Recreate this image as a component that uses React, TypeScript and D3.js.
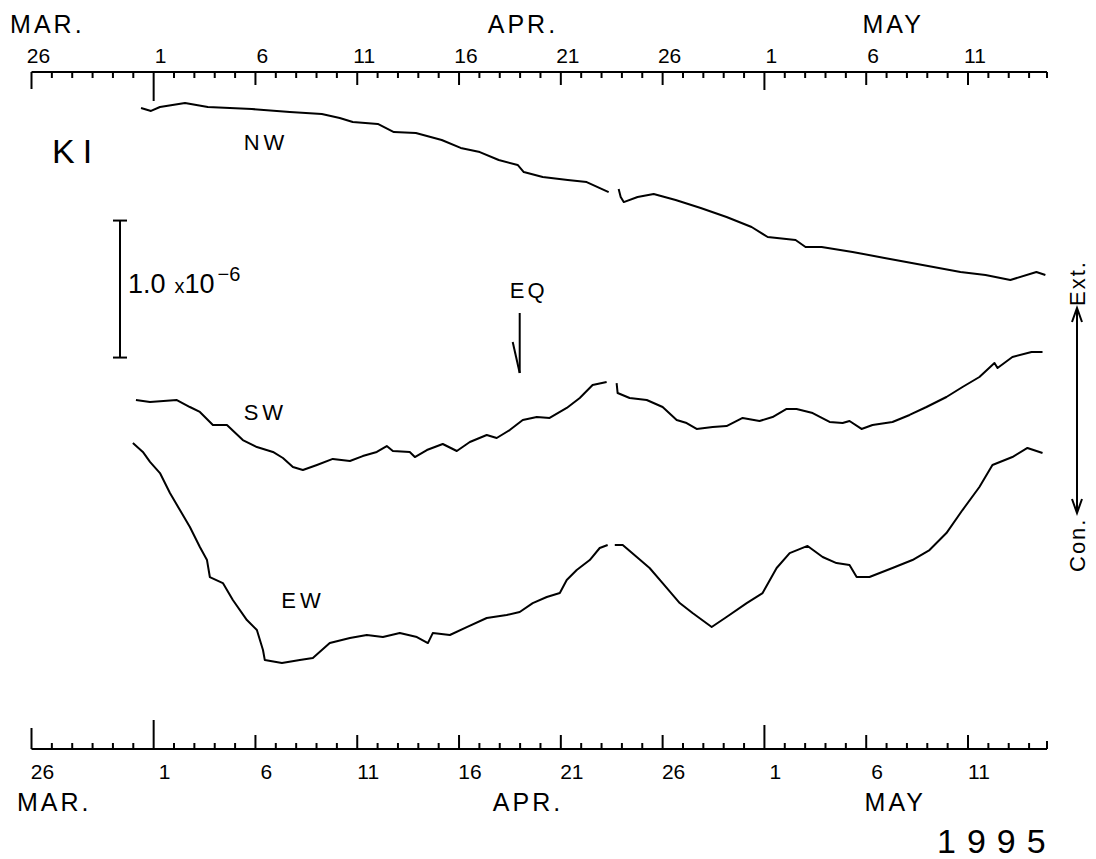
import React from 'react';
import * as d3 from 'd3';

// Time axis: days since 1995-03-26 00:00; strain in units of 1e-6 (Ext. up), common chart datum
const axisStartDay = 0;
const axisEndDay = 49.88;
const tickLabelDays = [0, 6, 11, 16, 21, 26, 31, 36, 41, 46];
const tickLabelTexts = ['26', '1', '6', '11', '16', '21', '26', '1', '6', '11'];
const monthNames = ['MAR.', 'APR.', 'MAY'];
const monthStartDaysTop = [-1.05, 22.41, 40.82];
const monthStartDaysBottom = [-0.71, 22.66, 40.92];

const nwDays = [5.38, 5.87, 6.31, 7.54, 8.66, 10.82, 12.69, 14.26, 15.14, 15.78, 17.01, 17.8, 18.88, 20.15, 21.08, 22.02, 22.95, 23.88, 24.18, 25.11, 26.34, 27.27, 28.35, 28.6, 28.84, 28.94, 29.09, 29.77, 30.56, 31.64, 32.87, 34.14, 35.37, 36.16, 37.53, 38.02, 38.81, 40.33, 41.9, 43.77, 45.63, 46.86, 48.08, 49.36, 49.8];
const nwValues = [-0.058, -0.08, -0.051, -0.022, -0.051, -0.066, -0.088, -0.102, -0.131, -0.161, -0.175, -0.234, -0.241, -0.292, -0.35, -0.38, -0.438, -0.474, -0.526, -0.562, -0.584, -0.599, -0.672, NaN, -0.65, -0.708, -0.745, -0.708, -0.686, -0.73, -0.788, -0.854, -0.927, -1.0, -1.022, -1.073, -1.073, -1.109, -1.153, -1.204, -1.255, -1.277, -1.314, -1.255, -1.277];

const swDays = [5.13, 5.82, 7.14, 7.78, 8.27, 8.91, 9.6, 10.38, 11.07, 11.86, 12.35, 12.84, 13.33, 14.02, 14.8, 15.64, 16.27, 16.96, 17.45, 17.75, 18.58, 18.83, 19.42, 20.2, 20.89, 21.53, 22.36, 22.85, 23.49, 24.13, 24.82, 25.45, 26.29, 26.93, 27.56, 28.25, 28.5, 28.74, 28.79, 29.38, 30.22, 31.0, 31.69, 32.18, 32.67, 33.46, 34.14, 34.93, 35.76, 36.4, 37.09, 37.58, 38.37, 39.2, 39.84, 40.18, 40.77, 41.31, 42.29, 43.13, 43.96, 44.94, 45.73, 46.56, 47.3, 47.45, 48.18, 49.12, 49.66];
const swValues = [-2.19, -2.204, -2.19, -2.241, -2.277, -2.372, -2.372, -2.482, -2.533, -2.569, -2.613, -2.679, -2.701, -2.664, -2.62, -2.635, -2.599, -2.569, -2.526, -2.562, -2.569, -2.606, -2.555, -2.511, -2.562, -2.496, -2.445, -2.467, -2.409, -2.336, -2.314, -2.321, -2.248, -2.175, -2.08, -2.058, NaN, -2.066, -2.139, -2.175, -2.19, -2.241, -2.336, -2.358, -2.401, -2.387, -2.38, -2.321, -2.343, -2.314, -2.255, -2.255, -2.285, -2.35, -2.358, -2.343, -2.401, -2.372, -2.35, -2.299, -2.241, -2.168, -2.095, -2.022, -1.92, -1.956, -1.876, -1.839, -1.839];

const ewDays = [4.98, 5.47, 5.82, 6.31, 6.8, 7.29, 7.78, 8.27, 8.62, 8.76, 9.4, 9.89, 10.58, 11.07, 11.37, 11.46, 12.3, 13.18, 13.82, 14.65, 15.64, 16.47, 17.26, 18.09, 18.93, 19.47, 19.71, 20.55, 21.38, 22.36, 23.34, 23.98, 24.62, 25.31, 25.95, 26.29, 26.78, 27.42, 27.91, 28.3, 28.48, 28.65, 29.04, 29.73, 30.36, 31.0, 31.84, 32.47, 33.41, 34.14, 35.13, 35.91, 36.6, 37.24, 38.12, 38.86, 39.54, 40.18, 40.53, 41.16, 42.29, 43.27, 44.11, 44.94, 45.73, 46.56, 47.2, 48.18, 48.92, 49.66];
const ewValues = [-2.504, -2.569, -2.642, -2.723, -2.869, -2.993, -3.117, -3.263, -3.358, -3.482, -3.526, -3.65, -3.796, -3.869, -4.015, -4.088, -4.109, -4.088, -4.073, -3.964, -3.927, -3.905, -3.92, -3.891, -3.92, -3.964, -3.891, -3.905, -3.847, -3.781, -3.759, -3.737, -3.672, -3.628, -3.599, -3.504, -3.431, -3.358, -3.27, -3.248, NaN, -3.248, -3.248, -3.336, -3.416, -3.526, -3.672, -3.745, -3.847, -3.774, -3.672, -3.599, -3.416, -3.307, -3.255, -3.336, -3.38, -3.394, -3.482, -3.482, -3.416, -3.358, -3.285, -3.161, -2.993, -2.825, -2.664, -2.606, -2.54, -2.577];

const seriesNames = ['NW', 'SW', 'EW'];
const seriesLabelDays = [10.42, 10.42, 12.27];
const seriesLabelValues = [-0.365, -2.336, -3.708];

const eqDay = 23.98;
const scaleBarTop = -0.88;
const scaleBarLength = 1.0;

const FONT = "'Liberation Sans', Arial, sans-serif";

export default function App() {
  const x = d3.scaleLinear().domain([axisStartDay, axisEndDay]).range([31.5, 1047]);
  const y = d3.scaleLinear().domain([0, -5]).range([100, 785]);

  const line = d3
    .line<[number, number]>()
    .defined((d) => !Number.isNaN(d[1]))
    .x((d) => x(d[0]))
    .y((d) => y(d[1]));

  const series = [
    d3.zip(nwDays, nwValues) as [number, number][],
    d3.zip(swDays, swValues) as [number, number][],
    d3.zip(ewDays, ewValues) as [number, number][],
  ];

  const days = d3.range(0, Math.floor(axisEndDay) + 1);
  const topY = 72;
  const botY = 749;

  const topLen = (d: number) => {
    if (d === 6) return 29;
    if (d === 0) return 17;
    if (d === 36) return 18;
    if (tickLabelDays.includes(d)) return 13;
    return 6;
  };
  const botLen = (d: number) => {
    if (d === 6) return 29;
    if (d === 0) return 21;
    if (d === 36) return 24;
    if (tickLabelDays.includes(d)) return 14;
    return 6;
  };

  const xb = 120;
  const yb1 = y(scaleBarTop);
  const yb2 = y(scaleBarTop - scaleBarLength);
  const xe = x(eqDay);
  const xa = 1077;

  return (
    <svg
      width={1096}
      height={859}
      style={{ position: 'absolute', left: 0, top: 0, background: '#fff' }}
      fontFamily={FONT}
    >
      <rect x={0} y={0} width={1096} height={859} fill="#fff" />
      {/* top axis */}
      <g stroke="#000" strokeWidth={2}>
        <line x1={x(axisStartDay)} x2={x(axisEndDay)} y1={topY} y2={topY} />
        {days.map((d) => (
          <line key={'tt' + d} x1={x(d)} x2={x(d)} y1={topY} y2={topY + topLen(d)} />
        ))}
        <line x1={x(axisEndDay)} x2={x(axisEndDay)} y1={topY} y2={topY + 6} />
      </g>
      {tickLabelDays.map((d, i) => (
        <text key={'tl' + d} x={x(d) + 7} y={63} fontSize={21} textAnchor="middle" fill="#000">
          {tickLabelTexts[i]}
        </text>
      ))}
      {monthNames.map((m, i) => (
        <text key={'mt' + m} x={x(monthStartDaysTop[i])} y={33} fontSize={25} letterSpacing={3} fill="#000">
          {m}
        </text>
      ))}

      {/* bottom axis */}
      <g stroke="#000" strokeWidth={2}>
        <line x1={x(axisStartDay)} x2={x(axisEndDay)} y1={botY} y2={botY} />
        {days.map((d) => (
          <line key={'bt' + d} x1={x(d)} x2={x(d)} y1={botY} y2={botY - botLen(d)} />
        ))}
        <line x1={x(axisEndDay)} x2={x(axisEndDay)} y1={botY} y2={botY - 8} />
      </g>
      {tickLabelDays.map((d, i) => (
        <text key={'bl' + d} x={x(d) + 11} y={779} fontSize={21} textAnchor="middle" fill="#000">
          {tickLabelTexts[i]}
        </text>
      ))}
      {monthNames.map((m, i) => (
        <text key={'mb' + m} x={x(monthStartDaysBottom[i])} y={811} fontSize={25} letterSpacing={3} fill="#000">
          {m}
        </text>
      ))}
      <text x={937} y={853} fontSize={34} letterSpacing={11} fill="#000">
        1995
      </text>

      {/* station label */}
      <text x={52} y={163} fontSize={34} letterSpacing={8} fill="#000">
        KI
      </text>

      {/* curves */}
      {series.map((s, i) => (
        <path key={'s' + i} d={line(s) || ''} fill="none" stroke="#000" strokeWidth={2} strokeLinejoin="round" />
      ))}
      {seriesNames.map((n, i) => (
        <text key={'sl' + n} x={x(seriesLabelDays[i])} y={y(seriesLabelValues[i])} fontSize={22} letterSpacing={4} fill="#000">
          {n}
        </text>
      ))}

      {/* scale bar */}
      <g stroke="#000" strokeWidth={2}>
        <line x1={xb} x2={xb} y1={yb1} y2={yb2} />
        <line x1={xb - 7} x2={xb + 7} y1={yb1} y2={yb1} />
        <line x1={xb - 7} x2={xb + 7} y1={yb2} y2={yb2} />
      </g>
      <text x={128} y={293} fontSize={27} fill="#000">
        1.0
        <tspan dx={9} fontSize={20}>x</tspan>
        <tspan fontSize={27}>10</tspan>
        <tspan dx={3} dy={-12} fontSize={20}>−6</tspan>
      </text>

      {/* EQ marker */}
      <text x={xe - 10} y={298} fontSize={22} letterSpacing={3} fill="#000">
        EQ
      </text>
      <g stroke="#000" strokeWidth={2} fill="none">
        <line x1={xe} x2={xe} y1={313} y2={373} />
        <line x1={xe - 7} x2={xe} y1={342} y2={373} />
      </g>

      {/* Ext / Con arrow */}
      <g stroke="#000" strokeWidth={2} fill="none">
        <line x1={xa} x2={xa} y1={308} y2={513} />
        <polyline points={`${xa - 5},${322} ${xa},${308} ${xa + 5},${322}`} />
        <polyline points={`${xa - 5},${499} ${xa},${513} ${xa + 5},${499}`} />
      </g>
      <text transform={`translate(1085,${306}) rotate(-90)`} fontSize={22} letterSpacing={2} fill="#000">
        Ext.
      </text>
      <text transform={`translate(1085,${572}) rotate(-90)`} fontSize={22} letterSpacing={2} fill="#000">
        Con.
      </text>
    </svg>
  );
}
